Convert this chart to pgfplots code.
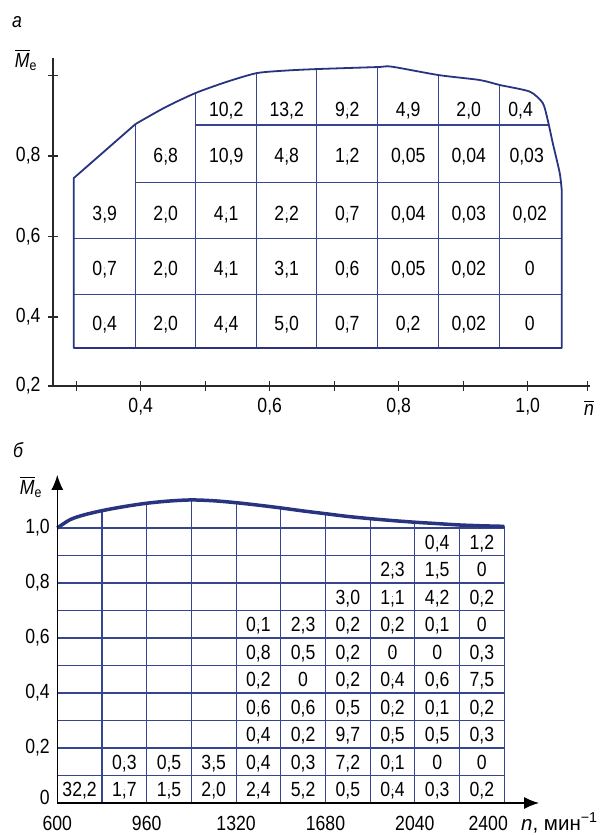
\documentclass[border=0pt]{standalone}
\usepackage{fontspec}
\setmainfont{Liberation Sans}[FakeStretch=0.86]
\newfontfamily\widefont{Liberation Sans}
\usepackage{amsmath}
\usepackage{pgfplots}
\pgfplotsset{compat=1.18}
\usepackage{pgfplotstable}
\usetikzlibrary{arrows.meta}
\definecolor{gridblue}{RGB}{55,68,145}
\definecolor{curveblue}{RGB}{40,52,128}
\definecolor{axisgray}{RGB}{40,40,40}
\newcommand\F{\fontsize{20.5}{24}\selectfont}

\pgfplotstableread{
n M t
0.3442 0.3851 0,4
0.4388 0.3851 2,0
0.5326 0.3851 4,4
0.6264 0.3851 5,0
0.7202 0.3851 0,7
0.8147 0.3851 0,2
0.9085 0.3851 0,02
1.0031 0.3851 0
0.3442 0.5217 0,7
0.4388 0.5217 2,0
0.5326 0.5217 4,1
0.6264 0.5217 3,1
0.7202 0.5217 0,6
0.8147 0.5217 0,05
0.9085 0.5217 0,02
1.0031 0.5217 0
0.3442 0.6584 3,9
0.4388 0.6584 2,0
0.5326 0.6584 4,1
0.6264 0.6584 2,2
0.7202 0.6584 0,7
0.8147 0.6584 0,04
0.9085 0.6584 0,03
1.0031 0.6584 0,02
0.4388 0.8025 6,8
0.5326 0.8025 10,9
0.6264 0.8025 4,8
0.7202 0.8025 1,2
0.8147 0.8025 0,05
0.9085 0.8025 0,04
0.9984 0.8025 0,03
0.5326 0.9168 10,2
0.6264 0.9168 13,2
0.7202 0.9168 9,2
0.8147 0.9168 4,9
0.9085 0.9168 2,0
0.9891 0.9168 0,4
}\tabA

% straight part of the outline of chart a
\pgfplotstableread{
n M
1.0527 0.7155
1.0527 0.323
0.2961 0.323
0.2961 0.745
0.392 0.8795
}\bndAs

% curved top of the outline of chart a
\pgfplotstableread{
n M
0.392 0.8795
0.4388 0.9217
0.485 0.9565
0.5326 0.9839
0.580 1.006
0.6264 1.0124
0.673 1.016
0.767 1.021
0.789 1.022
0.862 1.001
0.9256 0.9888
0.9566 0.9764
1.0031 0.960
1.0233 0.9317
1.031 0.8894
1.0388 0.8323
1.0496 0.7578
1.0527 0.7155
}\bndAc

\pgfplotstableread{
n M t
690 0.05 32,2
870 0.05 1,7
1050 0.05 1,5
1230 0.05 2,0
1410 0.05 2,4
1590 0.05 5,2
1770 0.05 0,5
1950 0.05 0,4
2130 0.05 0,3
2310 0.05 0,2
870 0.15 0,3
1050 0.15 0,5
1230 0.15 3,5
1410 0.15 0,4
1590 0.15 0,3
1770 0.15 7,2
1950 0.15 0,1
2130 0.15 0
2310 0.15 0
1410 0.25 0,4
1590 0.25 0,2
1770 0.25 9,7
1950 0.25 0,5
2130 0.25 0,5
2310 0.25 0,3
1410 0.35 0,6
1590 0.35 0,6
1770 0.35 0,5
1950 0.35 0,2
2130 0.35 0,1
2310 0.35 0,2
1410 0.45 0,2
1590 0.45 0
1770 0.45 0,2
1950 0.45 0,4
2130 0.45 0,6
2310 0.45 7,5
1410 0.55 0,8
1590 0.55 0,5
1770 0.55 0,2
1950 0.55 0
2130 0.55 0
2310 0.55 0,3
1410 0.65 0,1
1590 0.65 2,3
1770 0.65 0,2
1950 0.65 0,2
2130 0.65 0,1
2310 0.65 0
1770 0.75 3,0
1950 0.75 1,1
2130 0.75 4,2
2310 0.75 0,2
1950 0.85 2,3
2130 0.85 1,5
2310 0.85 0
2130 0.95 0,4
2310 0.95 1,2
}\tabB

\pgfplotstableread{
n M
600 1.0
651 1.030
705 1.047
780 1.063
870 1.078
960 1.090
1050 1.098
1140 1.102
1230 1.099
1320 1.092
1410 1.083
1500 1.073
1590 1.062
1680 1.052
1770 1.042
1860 1.034
1950 1.027
2040 1.021
2130 1.016
2220 1.011
2310 1.008
2400 1.006
}\crvB

\pgfplotsset{
  gA/.style={gridblue, line width=1.1pt, mark=none},
  txt/.style={only marks, mark=*, mark size=0.01pt, mark options={draw=none,fill=none},
    nodes near coords, point meta=explicit symbolic,
    nodes near coords style={font=\F, anchor=center, inner sep=0pt, text height=14.7pt, text depth=0pt, text=black}},
}

\begin{document}
\begin{tikzpicture}
\useasboundingbox (0,0) rectangle (604pt,835pt);

% ---------- chart a ----------
\begin{axis}[
  at={(53pt,449pt)}, anchor=south west,
  x=645pt, y=402.5pt,
  xmin=0.264, xmax=1.097, ymin=0.2286, ymax=1.0435,
  enlargelimits=false, clip=false, axis on top,
  axis lines=left,
  axis line style={-, axisgray, line width=1.1pt},
  tick style={axisgray, line width=1.1pt},
  tick align=center, major tick length=10pt,
  xtick={0.3008,0.4,0.5,0.6,0.7,0.8,0.9,1.0,1.092},
  xticklabels={,{0,4},,{0,6},,{0,8},,{1,0},},
  ytick={0.2286,0.4,0.6,0.8,1.0},
  yticklabels={{0,2},{0,4},{0,6},{0,8},},
  tick label style={font=\F, text=black},
  xticklabel style={yshift=-4pt},
  yticklabel style={xshift=-4pt},
]
\addplot[gA] coordinates {(0.2961,0.455) (1.0527,0.455)};
\addplot[gA] coordinates {(0.2961,0.596) (1.0527,0.596)};
\addplot[gA] coordinates {(0.392,0.735) (1.051,0.735)};
\addplot[gA] coordinates {(0.485,0.877) (1.0326,0.877)};
\addplot[gA] coordinates {(0.392,0.323) (0.392,0.8795)};
\addplot[gA] coordinates {(0.485,0.323) (0.485,0.9565)};
\addplot[gA] coordinates {(0.580,0.323) (0.580,1.006)};
\addplot[gA] coordinates {(0.673,0.323) (0.673,1.016)};
\addplot[gA] coordinates {(0.767,0.323) (0.767,1.021)};
\addplot[gA] coordinates {(0.862,0.323) (0.862,1.001)};
\addplot[gA] coordinates {(0.9566,0.323) (0.9566,0.9764)};
\addplot[curveblue, line width=1.8pt, mark=none, line join=round] table[x=n,y=M]{\bndAs};
\addplot[curveblue, line width=1.8pt, mark=none, smooth, tension=0.4] table[x=n,y=M]{\bndAc};
\addplot[txt] table[x=n,y=M,meta=t]{\tabA};
\end{axis}

% ---------- chart b ----------
\begin{axis}[
  at={(57.3pt,32pt)}, anchor=south west,
  x=0.2483pt, y=275pt,
  xmin=600, xmax=2540, ymin=0, ymax=1.193,
  enlargelimits=false, clip=false, axis on top,
  axis lines=left,
  axis line style={-{Latex[length=15pt,width=12pt]}, black, line width=1.2pt},
  major tick length=0pt,
  xtick={600,960,1320,1680,2040},
  xticklabels={600,960,1320,1680,2040},
  extra x ticks={2400},
  extra x tick labels={2400},
  extra x tick style={xticklabel style={xshift=-16pt}},
  ytick={0.2,0.4,0.6,0.8,1.0},
  yticklabels={{0,2},{0,4},{0,6},{0,8},{1,0}},
  extra y ticks={0},
  extra y tick labels={0},
  extra y tick style={yticklabel style={yshift=6pt}},
  tick label style={font=\F, text=black},
  xticklabel style={yshift=-10pt},
  yticklabel style={xshift=-4pt},
]
\addplot[gA] coordinates {(600,0.1) (2400,0.1)};
\addplot[gA] coordinates {(600,0.2) (2400,0.2)};
\addplot[gA] coordinates {(600,0.3) (2400,0.3)};
\addplot[gA] coordinates {(600,0.4) (2400,0.4)};
\addplot[gA] coordinates {(600,0.5) (2400,0.5)};
\addplot[gA] coordinates {(600,0.6) (2400,0.6)};
\addplot[gA] coordinates {(600,0.7) (2400,0.7)};
\addplot[gA] coordinates {(600,0.8) (2400,0.8)};
\addplot[gA] coordinates {(600,0.9) (2400,0.9)};
\addplot[gA] coordinates {(600,1.0) (2400,1.0)};
\addplot[gA] coordinates {(780,0) (780,1.063)};
\addplot[gA] coordinates {(960,0) (960,1.090)};
\addplot[gA] coordinates {(1140,0) (1140,1.102)};
\addplot[gA] coordinates {(1320,0) (1320,1.092)};
\addplot[gA] coordinates {(1500,0) (1500,1.073)};
\addplot[gA] coordinates {(1680,0) (1680,1.052)};
\addplot[gA] coordinates {(1860,0) (1860,1.034)};
\addplot[gA] coordinates {(2040,0) (2040,1.021)};
\addplot[gA] coordinates {(2220,0) (2220,1.011)};
\addplot[gA] coordinates {(2400,0) (2400,1.006)};
\addplot[curveblue, line width=3.5pt, mark=none, smooth] table[x=n,y=M]{\crvB};
\addplot[txt] table[x=n,y=M,meta=t]{\tabB};
\end{axis}

% ---------- labels ----------
\node at (17pt,813pt) {\F\itshape а};
\node at (26pt,775pt) {\F $\overline{\textit{M}}_{\text{e}}$};
\node at (589pt,427pt) {\F $\overline{\textit{n}}$};
\node at (18pt,385pt) {\F\itshape б};
\node at (31pt,348pt) {\F $\overline{\textit{M}}_{\text{e}}$};
\node[anchor=west, inner sep=0pt] at (521pt,12pt) {\F\widefont\textit{n}, мин\textsuperscript{−1}};
\end{tikzpicture}
\end{document}
